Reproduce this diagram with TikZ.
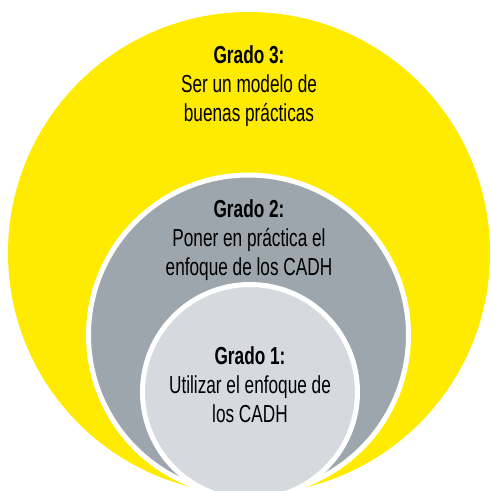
\documentclass[tikz,border=0pt]{standalone}
\usepackage{fontspec}
\setmainfont{Liberation Sans}[FakeStretch=0.7]
\usepackage{xcolor}
\usepackage{tikz}
\usetikzlibrary{calc}

\definecolor{gradoyellow}{HTML}{FFEB00}
\definecolor{gradogray}{HTML}{9DA6AC}
\definecolor{gradolight}{HTML}{D6DADE}

\begin{document}
\begin{tikzpicture}[
  ring/.style={circle,inner sep=0pt,draw=white,line width=0.1cm},
  label3/.style={inner sep=0pt,font=\fontsize{14}{16.5}\selectfont}
]
\useasboundingbox (0,0) rectangle (9.82,9.8);

% Outer circle
\node[circle,inner sep=0pt,minimum size=9.64cm,fill=gradoyellow] (grado3) at (4.98,4.74) {};

% Middle circle
\node[ring,minimum size=6.4cm,fill=gradogray] (grado2) at (4.97,3.10) {};

% Inner circle
\node[ring,minimum size=4.3cm,fill=gradolight] (grado1) at (5.00,1.96) {};

% Texts
\node[label3] (text3) at (4.98,8.07) {
\begin{tabular}{c}
\textbf{Grado 3:} \\
Ser un modelo de \\
buenas prácticas
\end{tabular}
};

\node[label3] (text2) at (4.98,4.98) {
\begin{tabular}{c}
\textbf{Grado 2:} \\
Poner en práctica el \\
enfoque de los CADH
\end{tabular}
};

\node[label3] (text1) at (5.00,2.04) {
\begin{tabular}{c}
\textbf{Grado 1:} \\
Utilizar el enfoque de \\
los CADH
\end{tabular}
};
\end{tikzpicture}
\end{document}
